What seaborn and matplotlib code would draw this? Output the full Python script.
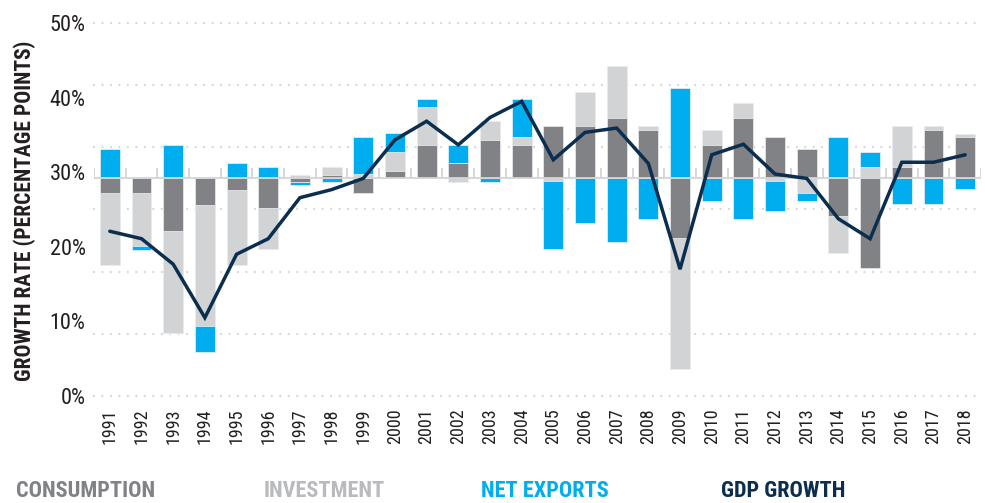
import numpy as np
import pandas as pd
import matplotlib
matplotlib.use("Agg")
import matplotlib.pyplot as plt
from matplotlib import font_manager
import seaborn as sns

# contributions to growth, percentage points
years = [str(y) for y in range(1991, 2019)]
consumption = [-2.4, -2.4, -8.5, -4.3, -1.8, -4.8, -0.5, 0.6, -2.4, 1.2, 5.4, 2.4, 6.1, 5.4,
               8.5, 8.5, 9.7, 7.8, -9.6, 5.4, 9.7, 6.7, 4.8, -6.0, -14.4, 1.9, 7.8, 6.6]
investment = [-11.6, -8.5, -16.3, -19.4, -12.1, -6.6, 0.6, 1.3, 0.7, 3.1, 6.1, -0.5, 3.1, 1.3,
              -0.4, 5.4, 8.4, 0.7, -21.1, 2.4, 2.4, -0.4, -2.4, -6.0, 1.9, 6.6, 0.7, 0.6]
net_exports = [4.8, -0.6, 5.4, -4.2, 2.5, 1.8, -0.6, -0.5, 6.0, 3.0, 1.3, 3.0, -0.5, 6.1,
               -10.9, -7.2, -10.2, -6.6, 14.5, -3.6, -6.6, -4.8, -1.2, 6.7, 2.3, -4.1, -4.1, -1.7]
gdp_growth = [-8.5, -9.7, -13.8, -22.4, -12.2, -9.7, -3.1, -1.8, 0.0, 6.2, 9.2, 5.4, 9.8, 12.4,
              3.0, 7.4, 8.1, 2.4, -14.6, 3.8, 5.5, 0.7, 0.0, -6.5, -9.7, 2.6, 2.6, 3.8]
ytick_labels = ["50%", "40%", "30%", "20%", "10%", "0%"]

c_cons = "#808285"
c_inv = "#d1d3d4"
c_nx = "#00aeef"
c_gdp = "#0c2e4e"

sns.set_style("white")
# pick the narrowest sans family that is installed
installed = {f.name for f in font_manager.fontManager.ttflist}
family = "DejaVu Sans"
for name in ["Liberation Sans Narrow", "Roboto Condensed", "Open Sans Condensed", "Roboto"]:
    if name in installed:
        family = name
        break
plt.rcParams["font.family"] = [family, "DejaVu Sans"]

df = pd.DataFrame({"year": years, "cons": consumption, "inv": investment,
                   "nx": net_exports, "gdp": gdp_growth})

# stack order from the baseline outwards: consumption, investment, net exports
parts = ["cons", "inv", "nx"]
colors = [c_cons, c_inv, c_nx]
pos = df[parts].clip(lower=0).cumsum(axis=1)
neg = df[parts].clip(upper=0).cumsum(axis=1)

fig = plt.figure(figsize=(9.85, 5.03), dpi=100)
ax = fig.add_axes([94 / 985, 1 - 396 / 503, (981 - 94) / 985, 373 / 503])

# dotted gridlines
for g in [25, 15, 5, -5, -15, -25, -35]:
    ax.axhline(g, color="#d3d4d6", lw=1.6, ls=(0, (0.01, 3.8)),
               dash_capstyle="round", zorder=0, clip_on=False)

# overlay cumulative bars, outermost first
for cum in [pos, neg]:
    for col, color in zip(parts[::-1], colors[::-1]):
        sns.barplot(x=df["year"], y=cum[col], color=color, saturation=1, width=0.63,
                    errorbar=None, edgecolor="#f2f2f2", linewidth=0.5, ax=ax, zorder=2)

# baseline with small separators
ax.axhline(0, color="#d3d4d6", lw=1.3, zorder=3)
ax.vlines(np.arange(-0.5, len(years)), 0, 1.7, color="#d3d4d6", lw=1.3, zorder=3)

sns.lineplot(x=np.arange(len(years)), y=df["gdp"], color=c_gdp, lw=2.5, ax=ax,
             zorder=4, solid_joinstyle="miter")

ax.set_xlim(-0.5, len(years) - 0.5)
ax.set_ylim(-35, 25)
ax.set_yticks(np.linspace(25, -35, 6))
ax.set_yticklabels(ytick_labels)
ax.set_xticks(np.arange(len(years)))
ax.set_xticklabels(years, rotation=90)
ax.tick_params(axis="y", length=0, pad=6, labelsize=16, labelcolor="#231f20")
ax.tick_params(axis="x", length=0, pad=9, labelsize=13, labelcolor="#231f20")
ax.set_xlabel("")
ax.set_ylabel("")
sns.despine(ax=ax, left=True, bottom=True)

fig.text(25 / 985, 1 - 211 / 503, "GROWTH RATE (PERCENTAGE POINTS)", rotation=90,
         ha="center", va="center", fontsize=15.5, fontweight="bold", color="#231f20")

legend_items = [("CONSUMPTION", c_cons, 16), ("INVESTMENT", "#b8babd", 264),
                ("NET EXPORTS", c_nx, 481), ("GDP GROWTH", c_gdp, 721)]
for label, color, x in legend_items:
    fig.text(x / 985, 1 - 491 / 503, label, ha="left", va="center", fontsize=16,
             fontweight="bold", color=color)

fig.savefig("out.png", dpi=100)
